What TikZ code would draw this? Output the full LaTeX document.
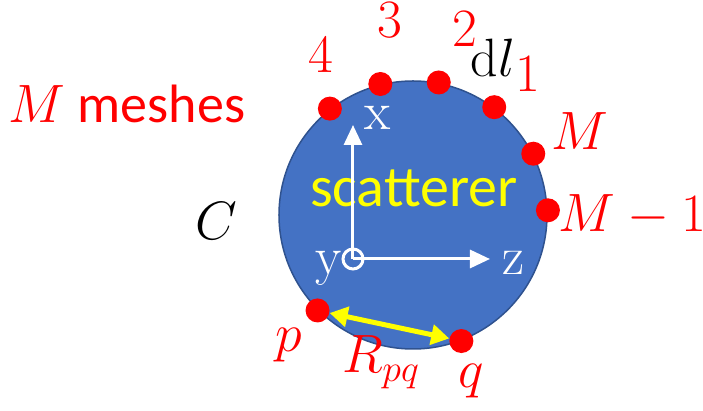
\RequirePackage{fix-cm}
\documentclass[tikz,border=0pt]{standalone}
\usepackage[no-math]{fontspec}
\setmainfont{Carlito}
\usetikzlibrary{arrows.meta}
\definecolor{scat}{RGB}{68,114,196}
\definecolor{scatline}{RGB}{47,82,143}
\definecolor{mesh}{RGB}{255,0,0}
\definecolor{hl}{RGB}{255,255,0}
\newcommand\lblsize{\fontsize{27}{32}\selectfont}
\tikzset{
  mdot/.style={circle,fill=mesh,minimum size=12pt,inner sep=0pt},
  lab/.style={font=\lblsize,inner sep=0pt,anchor=base},
  axis/.style={white,line width=1.5pt,-{Triangle[length=10pt,width=9pt]}},
  rpq/.style={hl,line width=2.5pt,{Triangle[length=9pt,width=10pt]}-{Triangle[length=9pt,width=10pt]}},
}

\begin{document}
\begin{tikzpicture}[x=0.5pt,y=0.5pt]
  \useasboundingbox (-413,-196) rectangle (290,215);
  % the scatterer and its contour C
  \node[circle,fill=scat,draw=scatline,line width=0.75pt,minimum size=134pt,inner sep=0pt]
    (scat) at (0,0) {};
  % mesh points on the contour
  \foreach \ang/\nm in {128/n4,104/n3,79/n2,53/n1,27/nM,2/nMm,225/np,291/nq} {
    \node[mdot] (\nm) at (\ang:135) {};
  }
  \node[lab,mesh] (l4) at (-92,142) {$4$};
  \node[lab,mesh] (l3) at (-23,177) {$3$};
  \node[lab,mesh] (l2) at (52,168) {$2$};
  \node[lab] (ldl) at (80,138) {$\mathrm{d}l$};
  \node[lab,mesh] (l1) at (115,123) {$1$};
  \node[lab,mesh] (lM) at (167,65) {$M$};
  \node[lab,mesh] (lMm) at (219,-17) {$M-1$};
  \node[lab,mesh] (lp) at (-124,-137) {$p$};
  \node[lab,mesh] (lq) at (58,-173) {$q$};
  \node[lab,mesh] (lR) at (-32,-158) {$R_{pq}$};
  \node[lab,mesh] (lmesh) at (-286,92) {$M$ meshes};
  \node[lab] (lC) at (-197,-25) {$C$};
  \node[lab,hl,font=\fontsize{29}{34}\selectfont] (lscat) at (1,8) {scatterer};
  % coordinate axes
  \node[circle,draw=white,line width=1.5pt,minimum size=10pt,inner sep=0pt] (yax) at (-60,-44) {};
  \coordinate (xtip) at (-60,90);
  \coordinate (ztip) at (77,-44);
  \draw[axis] (yax.center) -- (xtip);
  \draw[axis] (yax.center) -- (ztip);
  \node[lab,white] (lx) at (-35,85) {$\mathrm{x}$};
  \node[lab,white] (ly) at (-84,-60) {$\mathrm{y}$};
  \node[lab,white] (lz) at (100,-60) {$\mathrm{z}$};
  % distance between p and q
  \draw[rpq] (np) -- (nq);
\end{tikzpicture}
\end{document}
